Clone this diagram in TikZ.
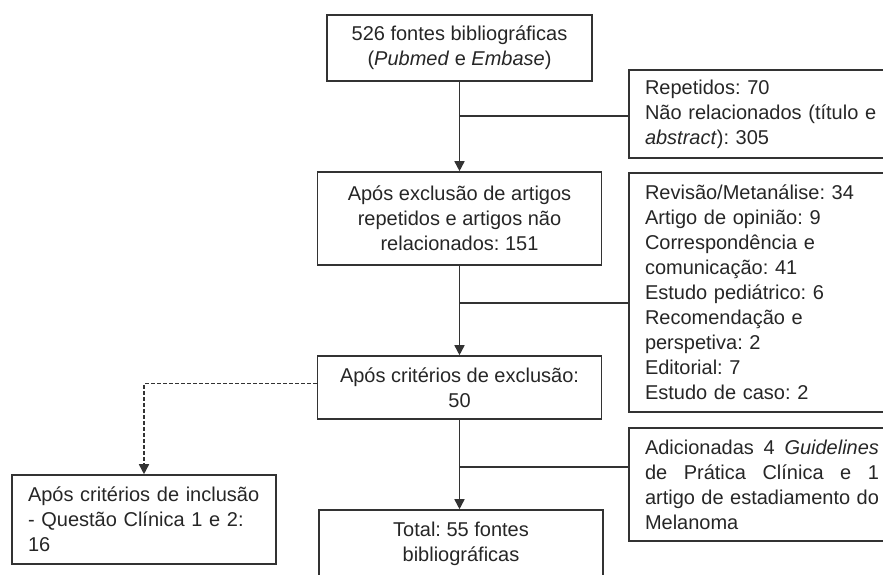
\documentclass[tikz,border=0pt]{standalone}
\usepackage{fontspec}
\setmainfont{Liberation Sans}
\usetikzlibrary{arrows.meta}
\hyphenpenalty=10000
\frenchspacing

\begin{document}
\begin{tikzpicture}[x=0.5pt,y=-0.5pt,
    box/.style={rectangle, draw=black!80, line width=0.8pt, inner sep=0pt, text=black!85,
      font=\fontsize{10}{12.5}\selectfont},
    mainbox/.style={box, align=center, minimum width=142pt},
    sidebox/.style={box, align=left, inner xsep=8pt, text width=117pt},
    flow/.style={draw=black!80, line width=0.8pt, -{Triangle[length=5pt,width=5pt]}},
    branch/.style={draw=black!80, line width=0.8pt}]
  \useasboundingbox (0,0) rectangle (883,574);
  \clip (0,0) rectangle (883,574);
  % main column
  \node[mainbox, minimum width=132.5pt, minimum height=33pt] (fontes) at (459.5,48)
    {526 fontes bibliográficas\\(\textit{Pubmed} e \textit{Embase})};
  \node[mainbox, minimum height=46.5pt] (aposexcl) at (459.5,218.5)
    {Após exclusão de artigos\\repetidos e artigos não\\relacionados: 151};
  \node[mainbox, minimum height=31.5pt] (criterios) at (459.5,387.5)
    {Após critérios de exclusão:\\50};
  \node[mainbox, minimum height=34pt] (total) at (461,544)
    {Total: 55 fontes\\bibliográficas};
  % side boxes
  \node[sidebox, minimum height=44pt] (duplic) at (762,114)
    {Repetidos: 70\\Não relacionados (título e\\\textit{abstract}): 305};
  \node[sidebox, minimum height=119.5pt] (exclus) at (762,292.5)
    {Revisão/Metanálise: 34\\Artigo de opinião: 9\\Correspondência e\\comunicação: 41\\Estudo pediátrico: 6\\Recomendação e\\perspetiva: 2\\Editorial: 7\\Estudo de caso: 2};
  \node[sidebox, align=justify, minimum height=56.5pt] (guide) at (762,484.5)
    {Adicionadas 4 \textit{Guidelines} de Prática Clínica e 1 artigo de estadiamento do Melanoma};
  \node[sidebox, text width=116pt, minimum height=44.5pt] (inclus) at (144,519.5)
    {Após critérios de inclusão\\- Questão Clínica 1 e 2:\\16};
  % connectors
  \coordinate (j1) at (459.5,116);
  \coordinate (j2) at (459.5,303);
  \coordinate (j3) at (459.5,467);
  \draw[flow] (fontes) -- (aposexcl);
  \draw[flow] (aposexcl) -- (criterios);
  \draw[flow] (criterios.south) -- (criterios.south |- total.north);
  \draw[branch] (j1) -- (j1 -| duplic.west);
  \draw[branch] (j2) -- (j2 -| exclus.west);
  \draw[branch] (j3) -- (j3 -| guide.west);
  \draw[flow, dash pattern=on 2pt off 1pt] ([yshift=2pt]criterios.west) -| (inclus.north);
\end{tikzpicture}
\end{document}
